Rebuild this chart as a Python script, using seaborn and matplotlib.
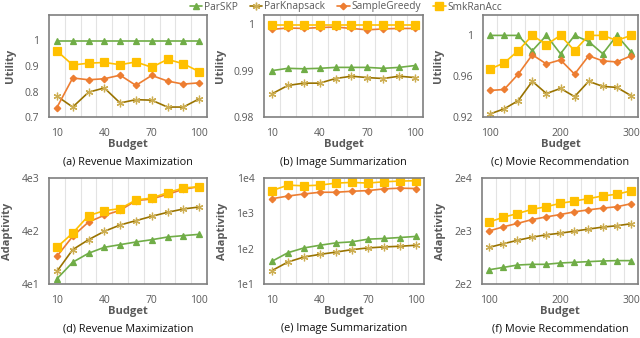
import numpy as np
import pandas as pd
import matplotlib
matplotlib.use('Agg')
import matplotlib.pyplot as plt
import seaborn as sns

sns.set_theme(style='white')
plt.rcParams['font.family'] = ['Open Sans', 'DejaVu Sans']

# budgets
budget_small = [10, 20, 30, 40, 50, 60, 70, 80, 90, 100]
budget_movie = [100, 120, 140, 160, 180, 200, 220, 240, 260, 280, 300]

# (a) revenue maximization - utility
rev_util_parskp = [1, 1, 1, 1, 1, 1, 1, 1, 1, 1]
rev_util_parknap = [0.782, 0.739, 0.797, 0.814, 0.755, 0.768, 0.766, 0.739, 0.739, 0.771]
rev_util_sample = [0.737, 0.853, 0.846, 0.850, 0.864, 0.824, 0.863, 0.841, 0.829, 0.834]
rev_util_smk = [0.959, 0.904, 0.911, 0.914, 0.905, 0.916, 0.895, 0.926, 0.909, 0.878]

# (b) image summarization - utility
img_util_parskp = [0.9900, 0.9905, 0.9904, 0.9905, 0.9907, 0.9907, 0.9907, 0.9905, 0.9907, 0.9911]
img_util_parknap = [0.9850, 0.9868, 0.9873, 0.9873, 0.9883, 0.9888, 0.9885, 0.9883, 0.9888, 0.9885]
img_util_sample = [0.9989, 0.9992, 0.9991, 0.9993, 0.9994, 0.9991, 0.9988, 0.9990, 0.9991, 0.9991]
img_util_smk = [0.9999, 0.9999, 0.9999, 0.9999, 0.9999, 0.9999, 0.9999, 0.9999, 0.9999, 0.9999]

# (c) movie recommendation - utility
mov_util_parskp = [1, 1, 1, 0.985, 1, 0.982, 1, 0.994, 0.982, 1, 0.984]
mov_util_parknap = [0.923, 0.928, 0.936, 0.955, 0.943, 0.948, 0.940, 0.955, 0.950, 0.949, 0.941]
mov_util_sample = [0.946, 0.947, 0.962, 0.981, 0.972, 0.976, 0.962, 0.980, 0.975, 0.974, 0.980]
mov_util_smk = [0.967, 0.973, 0.985, 1, 0.991, 1, 0.985, 1, 1, 0.995, 1]

# (d) revenue maximization - adaptivity
rev_adap_parskp = [50, 103, 152, 197, 221, 248, 274, 308, 327, 346]
rev_adap_parknap = [69, 178, 274, 394, 519, 627, 757, 900, 1041, 1135]
rev_adap_sample = [133, 317, 591, 791, 982, 1494, 1607, 1968, 2445, 2745]
rev_adap_smk = [197, 366, 778, 968, 1055, 1538, 1677, 2115, 2590, 2745]

# (e) image summarization - adaptivity
img_adap_parskp = [44, 77, 105, 125, 146, 156, 186, 194, 207, 222]
img_adap_parknap = [24, 42, 58, 69, 80, 94, 105, 112, 117, 125]
img_adap_sample = [2590, 3090, 3530, 3950, 3950, 4220, 4400, 4920, 5150, 5040]
img_adap_smk = [4406, 6280, 6010, 6280, 7180, 7500, 7180, 7830, 8180, 8370]

# (f) movie recommendation - adaptivity
mov_adap_parskp = [371, 411, 456, 470, 470, 498, 513, 528, 544, 552, 552]
mov_adap_parknap = [980, 1150, 1334, 1524, 1690, 1817, 1986, 2170, 2370, 2513, 2740]
mov_adap_sample = [2000, 2400, 2780, 3270, 3680, 4080, 4590, 5010, 5400, 5730, 6530]
mov_adap_smk = [2955, 3630, 4270, 5090, 5730, 6630, 7350, 8150, 9170, 9870, 11430]

algos = ['ParSKP', 'ParKnapsack', 'SampleGreedy', 'SmkRanAcc']
colors = {'ParSKP': '#70AD47', 'ParKnapsack': '#997300',
          'SampleGreedy': '#ED7D31', 'SmkRanAcc': '#FFC000'}
markers = {'ParSKP': '^', 'ParKnapsack': (6, 2, 0),
           'SampleGreedy': 'D', 'SmkRanAcc': 's'}
msizes = {'ParSKP': 5, 'ParKnapsack': 5.5, 'SampleGreedy': 3.3, 'SmkRanAcc': 5.5}
medges = {'ParSKP': '#70AD47', 'ParKnapsack': '#CDAE52',
          'SampleGreedy': '#ED7D31', 'SmkRanAcc': '#FFC000'}

gray = '#595959'

panels = [
    dict(x=budget_small, ys=[rev_util_parskp, rev_util_parknap, rev_util_sample, rev_util_smk],
         ylab='Utility', ylim=(0.7, 1.1), yticks=[0.7, 0.8, 0.9, 1], ylabels=['0.7', '0.8', '0.9', '1'],
         log=False, cap='(a) Revenue Maximization', pos=[49, 15, 207, 117]),
    dict(x=budget_small, ys=[img_util_parskp, img_util_parknap, img_util_sample, img_util_smk],
         ylab='Utility', ylim=(0.98, 1.002), yticks=[0.98, 0.99, 1], ylabels=['0.98', '0.99', '1'],
         log=False, cap='(b) Image Summarization', pos=[264, 15, 423, 117]),
    dict(x=budget_movie, ys=[mov_util_parskp, mov_util_parknap, mov_util_sample, mov_util_smk],
         ylab='Utility', ylim=(0.92, 1.02), yticks=[0.92, 0.96, 1], ylabels=['0.92', '0.96', '1'],
         log=False, cap='(c) Movie Recommendation', pos=[483, 15, 638, 117]),
    dict(x=budget_small, ys=[rev_adap_parskp, rev_adap_parknap, rev_adap_sample, rev_adap_smk],
         ylab='Adaptivity', ylim=(40, 4000), yticks=[40, 400, 4000], ylabels=['4e1', '4e2', '4e3'],
         log=True, cap='(d) Revenue Maximization', pos=[49, 178, 207, 284]),
    dict(x=budget_small, ys=[img_adap_parskp, img_adap_parknap, img_adap_sample, img_adap_smk],
         ylab='Adaptivity', ylim=(10, 10000), yticks=[10, 100, 1000, 10000],
         ylabels=['1e1', '1e2', '1e3', '1e4'],
         log=True, cap='(e) Image Summarization', pos=[264, 178, 424, 284]),
    dict(x=budget_movie, ys=[mov_adap_parskp, mov_adap_parknap, mov_adap_sample, mov_adap_smk],
         ylab='Adaptivity', ylim=(200, 20000), yticks=[200, 2000, 20000], ylabels=['2e2', '2e3', '2e4'],
         log=True, cap='(f) Movie Recommendation', pos=[482, 178, 638, 284]),
]

W, H = 640, 338
fig = plt.figure(figsize=(6.4, 3.38), dpi=100)

for p in panels:
    l, t, r, b = p['pos']
    ax = fig.add_axes([l / W, 1 - b / H, (r - l) / W, (b - t) / H])
    xs = p['x']
    step = xs[1] - xs[0]
    for name, ys in zip(algos, p['ys']):
        sns.lineplot(x=xs, y=ys, ax=ax, color=colors[name], marker=markers[name],
                     markersize=msizes[name], markerfacecolor=medges[name],
                     markeredgecolor=medges[name], markeredgewidth=0.9,
                     linewidth=1.2, label=name, legend=False)
    if p['log']:
        ax.set_yscale('log')
        ax.minorticks_off()
    ax.set_ylim(*p['ylim'])
    ax.set_yticks(p['yticks'])
    ax.set_yticklabels(p['ylabels'])
    ax.set_xlim(xs[0] - step / 2, xs[-1] + step / 2)
    ax.set_xticks(xs[::3] if len(xs) == 10 else xs[::5])
    ax.set_xticks([v + step / 2 for v in xs[:-1]], minor=True)
    ax.grid(False)
    ax.grid(True, which='minor', axis='x', color='#E3E3E3', linewidth=0.8)
    ax.tick_params(which='both', length=0, labelsize=7.5, labelcolor=gray)
    ax.tick_params(axis='x', pad=8)
    ax.tick_params(axis='y', pad=7)
    ax.set_xlabel('Budget', fontsize=8, fontweight='bold', color=gray, labelpad=0)
    ax.set_ylabel(p['ylab'], fontsize=8, fontweight='bold', color=gray, labelpad=6)
    for s in ax.spines.values():
        s.set_color('#7F7F7F')
        s.set_linewidth(1.2)
    fig.text(((l + r) / 2) / W, 1 - (b + 45) / H, p['cap'], ha='center', va='center',
             fontsize=7.8, color='#111111')

handles = [plt.Line2D([], [], color=colors[n], marker=markers[n], markersize=msizes[n],
                      markerfacecolor=medges[n], markeredgecolor=medges[n], linewidth=1.2)
           for n in algos]
fig.legend(handles, algos, loc='center', bbox_to_anchor=(346 / W, 1 - 7 / H), ncol=4,
           frameon=False, fontsize=7.3, handlelength=1.2, handletextpad=0.2,
           columnspacing=1.2, labelcolor=gray)

fig.savefig('out.png', dpi=100)
